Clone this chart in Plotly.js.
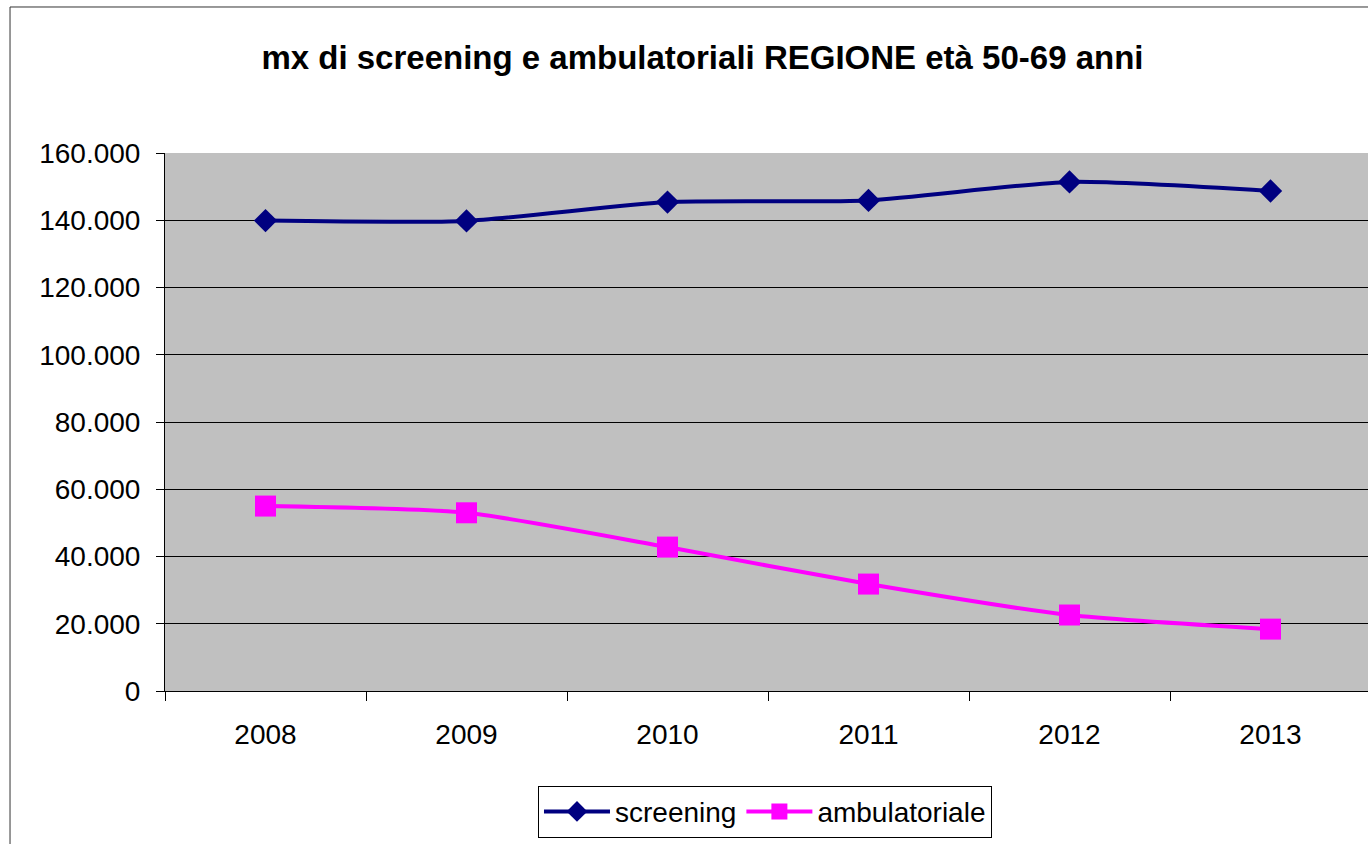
<!DOCTYPE html>
<html>
<head>
<meta charset="utf-8">
<script src="https://cdn.plot.ly/plotly-3.0.1.min.js"></script>
<style>
  html, body { margin: 0; padding: 0; background: white; overflow: hidden; }
  #chart { width: 1372px; height: 844px; }
</style>
</head>
<body>
<div id="chart"></div>
<script>
const years = ["2008", "2009", "2010", "2011", "2012", "2013"];
const screening = [139900, 139800, 145400, 145900, 151400, 148700];
const ambulatoriale = [55000, 53000, 42800, 31800, 22600, 18400];
const yTicks = [0, 20000, 40000, 60000, 80000, 100000, 120000, 140000, 160000];

const traces = [
  {
    x: years, y: screening,
    type: "scatter", mode: "lines+markers",
    name: "screening",
    line: { color: "#000080", width: 4, shape: "spline", smoothing: 0.6 },
    marker: { symbol: "diamond", size: 18, color: "#000080" }
  },
  {
    x: years, y: ambulatoriale,
    type: "scatter", mode: "lines+markers",
    name: "ambulatoriale",
    line: { color: "#FF00FF", width: 4, shape: "spline", smoothing: 0.6 },
    marker: { symbol: "square", size: 21, color: "#FF00FF" }
  }
];

const layout = {
  width: 1372,
  height: 844,
  margin: { l: 165, r: 1, t: 153, b: 153 },
  paper_bgcolor: "white",
  plot_bgcolor: "#C0C0C0",
  separators: ",.",
  font: { family: "Liberation Sans, Arial, sans-serif", size: 28, color: "black" },
  title: {
    text: "<b>mx di screening e ambulatoriali REGIONE età 50-69 anni</b>",
    font: { size: 33, color: "black" },
    x: 0.512, xanchor: "center",
    y: 0.932, yanchor: "middle"
  },
  xaxis: {
    type: "category",
    range: [-0.5, 5.5],
    showgrid: false,
    showline: true, linecolor: "black", linewidth: 1,
    ticks: "outside", tickson: "boundaries", ticklen: 9, tickcolor: "black",
    ticklabelstandoff: 18,
    tickfont: { size: 28 },
    fixedrange: true
  },
  yaxis: {
    range: [0, 160000],
    tickvals: yTicks,
    tickformat: ",.0f",
    showgrid: true, gridcolor: "black", gridwidth: 1,
    zeroline: false,
    showline: true, linecolor: "black", linewidth: 1,
    ticks: "outside", ticklen: 8, tickcolor: "black",
    ticklabelstandoff: 10,
    tickfont: { size: 28 },
    fixedrange: true
  },
  showlegend: true,
  legend: {
    orientation: "h",
    x: 0.4975, xanchor: "center",
    y: -0.176, yanchor: "top",
    bordercolor: "black", borderwidth: 1,
    bgcolor: "white",
    font: { size: 28 },
    itemwidth: 66,
    tracegroupgap: 0
  },
  shapes: [
    {
      type: "rect", xref: "paper", yref: "paper",
      x0: -0.1285, x1: 1.02, y0: -0.3, y1: 1.2714,
      line: { color: "#333333", width: 1 },
      layer: "below"
    }
  ]
};

Plotly.newPlot("chart", traces, layout, { staticPlot: true });
</script>
</body>
</html>
